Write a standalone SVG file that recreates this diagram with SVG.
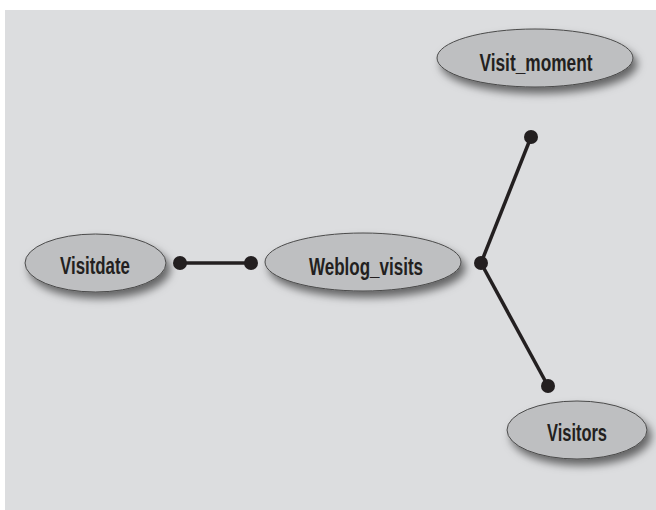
<svg xmlns="http://www.w3.org/2000/svg" width="656" height="510" viewBox="0 0 656 510">
  <defs>
    <filter id="shadow" x="-20%" y="-30%" width="150%" height="180%">
      <feDropShadow dx="4" dy="6" stdDeviation="4" flood-color="#000" flood-opacity="0.55"/>
    </filter>
  </defs>
  <style>
    .node ellipse { fill: #bebfc1; stroke: #4a4a4a; stroke-width: 1; filter: url(#shadow); }
    .node text { font-family: "Liberation Sans Narrow", "Liberation Sans", Arial, sans-serif; font-weight: bold; font-size: 23px; fill: #231f20; text-anchor: middle; }
    .conn line { stroke: #231f20; stroke-width: 3.5; }
    .conn circle { fill: #231f20; }
  </style>
  <rect x="0" y="0" width="656" height="510" fill="#ffffff"/>
  <rect x="5" y="10" width="651" height="500" fill="#dcdddf"/>

  <g id="connectors" class="conn">
    <line x1="180" y1="263" x2="251" y2="263"/>
    <line x1="481" y1="263" x2="531" y2="137"/>
    <line x1="481" y1="263" x2="548" y2="386"/>
    <circle cx="180" cy="263" r="7"/>
    <circle cx="251" cy="263" r="7"/>
    <circle cx="481" cy="263" r="7"/>
    <circle cx="531" cy="137" r="7"/>
    <circle cx="548" cy="386" r="7"/>
  </g>

  <g id="visit_moment" class="node">
    <ellipse cx="535" cy="58" rx="98" ry="29"/>
    <text x="536" y="71" textLength="113" lengthAdjust="spacingAndGlyphs">Visit_moment</text>
  </g>
  <g id="visitdate" class="node">
    <ellipse cx="95.5" cy="263" rx="70.5" ry="29"/>
    <text x="95" y="274" textLength="70" lengthAdjust="spacingAndGlyphs">Visitdate</text>
  </g>
  <g id="weblog_visits" class="node">
    <ellipse cx="363" cy="262" rx="98" ry="29"/>
    <text x="366" y="275" textLength="114" lengthAdjust="spacingAndGlyphs">Weblog_visits</text>
  </g>
  <g id="visitors" class="node">
    <ellipse cx="577" cy="430" rx="70" ry="29"/>
    <text x="577" y="441" textLength="60" lengthAdjust="spacingAndGlyphs">Visitors</text>
  </g>
</svg>
